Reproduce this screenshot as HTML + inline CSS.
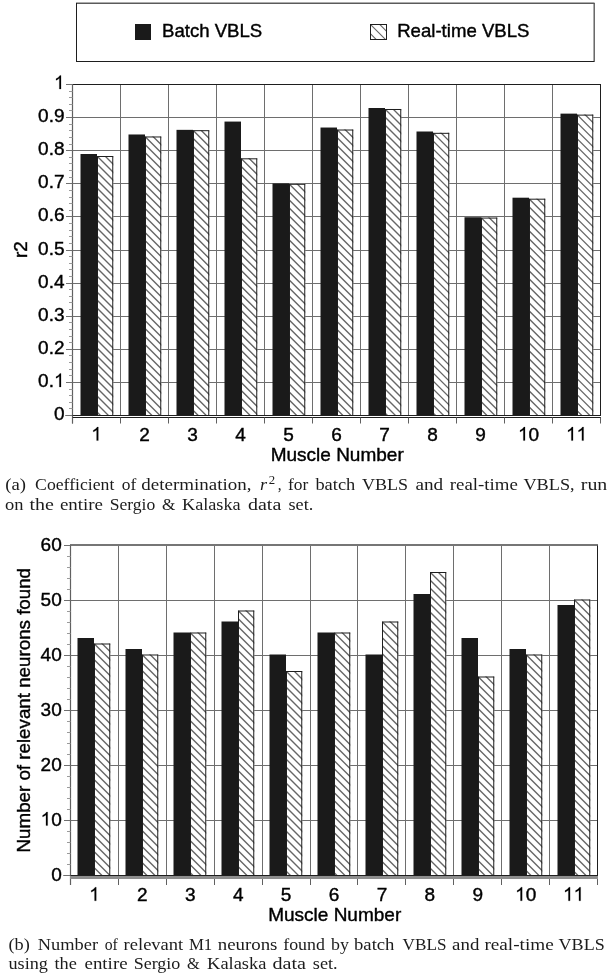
<!DOCTYPE html><html><head><meta charset="utf-8"><style>html,body{margin:0;padding:0;background:#fff;width:612px;height:974px;overflow:hidden}svg{display:block;filter:grayscale(1)}text{fill:#000}.s{stroke:#000;stroke-width:0.4px}</style></head><body>
<svg width="612" height="974" viewBox="0 0 612 974">
<rect x="0" y="0" width="612" height="974" fill="#fff"/>
<rect x="76" y="3" width="518" height="58" fill="#fff"/>
<line x1="76" y1="3.2" x2="594.5" y2="3.2" stroke="#5a5a5a" stroke-width="1.4"/>
<line x1="594.2" y1="3" x2="594.2" y2="61.5" stroke="#5a5a5a" stroke-width="1.4"/>
<line x1="76.5" y1="3" x2="76.5" y2="61.5" stroke="#1e1e1e" stroke-width="1"/>
<line x1="76" y1="61.5" x2="594.5" y2="61.5" stroke="#1e1e1e" stroke-width="1"/>
<rect x="135" y="24" width="16" height="16" fill="#1a1a1a"/>
<clipPath id="c1"><rect x="370" y="24" width="17" height="16"/></clipPath>
<rect x="370" y="24" width="17" height="16" fill="#fff"/>
<path clip-path="url(#c1)" d="M369,4.399999999999999L405,40.4M369,13.7L405,49.7M369,23.0L405,59.0M369,32.3L405,68.3" stroke="#666666" stroke-width="1.1" fill="none"/>
<rect x="370.5" y="24.5" width="16" height="15" fill="none" stroke="#1e1e1e" stroke-width="1"/>
<text class="s" x="162" y="36.8" text-anchor="start" font-family='"Liberation Sans", sans-serif' font-size="18.6" >Batch VBLS</text>
<text class="s" x="397.2" y="36.8" text-anchor="start" font-family='"Liberation Sans", sans-serif' font-size="18.6" >Real-time VBLS</text>
<line x1="72.5" y1="382.5" x2="600.5" y2="382.5" stroke="#6e6e6e" stroke-width="1"/>
<line x1="72.5" y1="349.5" x2="600.5" y2="349.5" stroke="#6e6e6e" stroke-width="1"/>
<line x1="72.5" y1="316.5" x2="600.5" y2="316.5" stroke="#6e6e6e" stroke-width="1"/>
<line x1="72.5" y1="283.5" x2="600.5" y2="283.5" stroke="#6e6e6e" stroke-width="1"/>
<line x1="72.5" y1="250.5" x2="600.5" y2="250.5" stroke="#6e6e6e" stroke-width="1"/>
<line x1="72.5" y1="216.5" x2="600.5" y2="216.5" stroke="#6e6e6e" stroke-width="1"/>
<line x1="72.5" y1="183.5" x2="600.5" y2="183.5" stroke="#6e6e6e" stroke-width="1"/>
<line x1="72.5" y1="150.5" x2="600.5" y2="150.5" stroke="#6e6e6e" stroke-width="1"/>
<line x1="72.5" y1="117.5" x2="600.5" y2="117.5" stroke="#6e6e6e" stroke-width="1"/>
<line x1="120.5" y1="84.5" x2="120.5" y2="415.5" stroke="#6e6e6e" stroke-width="1"/>
<line x1="168.5" y1="84.5" x2="168.5" y2="415.5" stroke="#6e6e6e" stroke-width="1"/>
<line x1="216.5" y1="84.5" x2="216.5" y2="415.5" stroke="#6e6e6e" stroke-width="1"/>
<line x1="264.5" y1="84.5" x2="264.5" y2="415.5" stroke="#6e6e6e" stroke-width="1"/>
<line x1="312.5" y1="84.5" x2="312.5" y2="415.5" stroke="#6e6e6e" stroke-width="1"/>
<line x1="360.5" y1="84.5" x2="360.5" y2="415.5" stroke="#6e6e6e" stroke-width="1"/>
<line x1="408.5" y1="84.5" x2="408.5" y2="415.5" stroke="#6e6e6e" stroke-width="1"/>
<line x1="456.5" y1="84.5" x2="456.5" y2="415.5" stroke="#6e6e6e" stroke-width="1"/>
<line x1="504.5" y1="84.5" x2="504.5" y2="415.5" stroke="#6e6e6e" stroke-width="1"/>
<line x1="552.5" y1="84.5" x2="552.5" y2="415.5" stroke="#6e6e6e" stroke-width="1"/>
<clipPath id="c2"><rect x="97" y="156.0" width="16.25" height="260.0"/></clipPath>
<rect x="97" y="156.0" width="16.25" height="260.0" fill="#fff"/>
<path clip-path="url(#c2)" d="M96,131.0L375.25,410.25M96,139.0L375.25,418.25M96,147.0L375.25,426.25M96,155.0L375.25,434.25M96,163.0L375.25,442.25M96,171.0L375.25,450.25M96,179.0L375.25,458.25M96,187.0L375.25,466.25M96,195.0L375.25,474.25M96,203.0L375.25,482.25M96,211.0L375.25,490.25M96,219.0L375.25,498.25M96,227.0L375.25,506.25M96,235.0L375.25,514.25M96,243.0L375.25,522.25M96,251.0L375.25,530.25M96,259.0L375.25,538.25M96,267.0L375.25,546.25M96,275.0L375.25,554.25M96,283.0L375.25,562.25M96,291.0L375.25,570.25M96,299.0L375.25,578.25M96,307.0L375.25,586.25M96,315.0L375.25,594.25M96,323.0L375.25,602.25M96,331.0L375.25,610.25M96,339.0L375.25,618.25M96,347.0L375.25,626.25M96,355.0L375.25,634.25M96,363.0L375.25,642.25M96,371.0L375.25,650.25M96,379.0L375.25,658.25M96,387.0L375.25,666.25M96,395.0L375.25,674.25M96,403.0L375.25,682.25M96,411.0L375.25,690.25" stroke="#666666" stroke-width="1.35" fill="none"/>
<rect x="97.5" y="156.5" width="15.25" height="259.0" fill="none" stroke="#1e1e1e" stroke-width="1"/>
<rect x="80.50" y="154.01" width="16.5" height="261.99" fill="#1a1a1a"/>
<clipPath id="c3"><rect x="145" y="136.47" width="16.25" height="279.53"/></clipPath>
<rect x="145" y="136.47" width="16.25" height="279.53" fill="#fff"/>
<path clip-path="url(#c3)" d="M144,111.47L442.78,410.25M144,119.47L442.78,418.25M144,127.47L442.78,426.25M144,135.47L442.78,434.25M144,143.47L442.78,442.25M144,151.47L442.78,450.25M144,159.47L442.78,458.25M144,167.47L442.78,466.25M144,175.47L442.78,474.25M144,183.47L442.78,482.25M144,191.47L442.78,490.25M144,199.47L442.78,498.25M144,207.47L442.78,506.25M144,215.47L442.78,514.25M144,223.47L442.78,522.25M144,231.47L442.78,530.25M144,239.47L442.78,538.25M144,247.47L442.78,546.25M144,255.47000000000003L442.78,554.25M144,263.47L442.78,562.25M144,271.47L442.78,570.25M144,279.47L442.78,578.25M144,287.47L442.78,586.25M144,295.47L442.78,594.25M144,303.47L442.78,602.25M144,311.47L442.78,610.25M144,319.47L442.78,618.25M144,327.47L442.78,626.25M144,335.47L442.78,634.25M144,343.47L442.78,642.25M144,351.47L442.78,650.25M144,359.47L442.78,658.25M144,367.47L442.78,666.25M144,375.47L442.78,674.25M144,383.47L442.78,682.25M144,391.47L442.78,690.25M144,399.47L442.78,698.25M144,407.47L442.78,706.25M144,415.47L442.78,714.25" stroke="#666666" stroke-width="1.35" fill="none"/>
<rect x="145.5" y="136.97" width="15.25" height="278.53" fill="none" stroke="#1e1e1e" stroke-width="1"/>
<rect x="128.50" y="134.48" width="16.5" height="281.52" fill="#1a1a1a"/>
<clipPath id="c4"><rect x="193" y="130.18" width="16.25" height="285.82"/></clipPath>
<rect x="193" y="130.18" width="16.25" height="285.82" fill="#fff"/>
<path clip-path="url(#c4)" d="M192,105.18L497.07,410.25M192,113.18L497.07,418.25M192,121.18L497.07,426.25M192,129.18L497.07,434.25M192,137.18L497.07,442.25M192,145.18L497.07,450.25M192,153.18L497.07,458.25M192,161.18L497.07,466.25M192,169.18L497.07,474.25M192,177.18L497.07,482.25M192,185.18L497.07,490.25M192,193.18L497.07,498.25M192,201.18L497.07,506.25M192,209.18L497.07,514.25M192,217.18L497.07,522.25M192,225.18L497.07,530.25M192,233.18L497.07,538.25M192,241.18L497.07,546.25M192,249.18L497.07,554.25M192,257.18L497.07,562.25M192,265.18L497.07,570.25M192,273.18L497.07,578.25M192,281.18L497.07,586.25M192,289.18L497.07,594.25M192,297.18L497.07,602.25M192,305.18L497.07,610.25M192,313.18L497.07,618.25M192,321.18L497.07,626.25M192,329.18L497.07,634.25M192,337.18L497.07,642.25M192,345.18L497.07,650.25M192,353.18L497.07,658.25M192,361.18L497.07,666.25M192,369.18L497.07,674.25M192,377.18L497.07,682.25M192,385.18L497.07,690.25M192,393.18L497.07,698.25M192,401.18L497.07,706.25M192,409.18L497.07,714.25" stroke="#666666" stroke-width="1.35" fill="none"/>
<rect x="193.5" y="130.68" width="15.25" height="284.82" fill="none" stroke="#1e1e1e" stroke-width="1"/>
<rect x="176.50" y="129.85" width="16.5" height="286.15" fill="#1a1a1a"/>
<clipPath id="c5"><rect x="241" y="158.31" width="16.25" height="257.69"/></clipPath>
<rect x="241" y="158.31" width="16.25" height="257.69" fill="#fff"/>
<path clip-path="url(#c5)" d="M240,133.31L516.94,410.25M240,141.31L516.94,418.25M240,149.31L516.94,426.25M240,157.31L516.94,434.25M240,165.31L516.94,442.25M240,173.31L516.94,450.25M240,181.31L516.94,458.25M240,189.31L516.94,466.25M240,197.31L516.94,474.25M240,205.31L516.94,482.25M240,213.31L516.94,490.25M240,221.31L516.94,498.25M240,229.31L516.94,506.25M240,237.31L516.94,514.25M240,245.31L516.94,522.25M240,253.31L516.94,530.25M240,261.31L516.94,538.25M240,269.31L516.94,546.25M240,277.31L516.94,554.25M240,285.31L516.94,562.25M240,293.31L516.94,570.25M240,301.31L516.94,578.25M240,309.31L516.94,586.25M240,317.31L516.94,594.25M240,325.31L516.94,602.25M240,333.31L516.94,610.25M240,341.31L516.94,618.25M240,349.31L516.94,626.25M240,357.31L516.94,634.25M240,365.31L516.94,642.25M240,373.31L516.94,650.25M240,381.31L516.94,658.25M240,389.31L516.94,666.25M240,397.31L516.94,674.25M240,405.31L516.94,682.25M240,413.31L516.94,690.25" stroke="#666666" stroke-width="1.35" fill="none"/>
<rect x="241.5" y="158.81" width="15.25" height="256.69" fill="none" stroke="#1e1e1e" stroke-width="1"/>
<rect x="224.50" y="121.57" width="16.5" height="294.43" fill="#1a1a1a"/>
<clipPath id="c6"><rect x="289" y="183.8" width="16.25" height="232.2"/></clipPath>
<rect x="289" y="183.8" width="16.25" height="232.2" fill="#fff"/>
<path clip-path="url(#c6)" d="M288,158.8L539.45,410.25M288,166.8L539.45,418.25M288,174.8L539.45,426.25M288,182.8L539.45,434.25M288,190.8L539.45,442.25M288,198.8L539.45,450.25M288,206.8L539.45,458.25M288,214.8L539.45,466.25M288,222.8L539.45,474.25M288,230.8L539.45,482.25M288,238.8L539.45,490.25M288,246.8L539.45,498.25M288,254.8L539.45,506.25M288,262.8L539.45,514.25M288,270.8L539.45,522.25M288,278.8L539.45,530.25M288,286.8L539.45,538.25M288,294.8L539.45,546.25M288,302.8L539.45,554.25M288,310.8L539.45,562.25M288,318.8L539.45,570.25M288,326.8L539.45,578.25M288,334.8L539.45,586.25M288,342.8L539.45,594.25M288,350.8L539.45,602.25M288,358.8L539.45,610.25M288,366.8L539.45,618.25M288,374.8L539.45,626.25M288,382.8L539.45,634.25M288,390.8L539.45,642.25M288,398.8L539.45,650.25M288,406.8L539.45,658.25M288,414.8L539.45,666.25" stroke="#666666" stroke-width="1.35" fill="none"/>
<rect x="289.5" y="184.3" width="15.25" height="231.2" fill="none" stroke="#1e1e1e" stroke-width="1"/>
<rect x="272.50" y="183.47" width="16.5" height="232.53" fill="#1a1a1a"/>
<clipPath id="c7"><rect x="337" y="129.52" width="16.25" height="286.48"/></clipPath>
<rect x="337" y="129.52" width="16.25" height="286.48" fill="#fff"/>
<path clip-path="url(#c7)" d="M336,104.52000000000001L641.73,410.25M336,112.52000000000001L641.73,418.25M336,120.52000000000001L641.73,426.25M336,128.52L641.73,434.25M336,136.52L641.73,442.25M336,144.52L641.73,450.25M336,152.52L641.73,458.25M336,160.52L641.73,466.25M336,168.52L641.73,474.25M336,176.52L641.73,482.25M336,184.52L641.73,490.25M336,192.52L641.73,498.25M336,200.52L641.73,506.25M336,208.52L641.73,514.25M336,216.52L641.73,522.25M336,224.52L641.73,530.25M336,232.52L641.73,538.25M336,240.52L641.73,546.25M336,248.52L641.73,554.25M336,256.52L641.73,562.25M336,264.52L641.73,570.25M336,272.52L641.73,578.25M336,280.52L641.73,586.25M336,288.52L641.73,594.25M336,296.52L641.73,602.25M336,304.52L641.73,610.25M336,312.52L641.73,618.25M336,320.52L641.73,626.25M336,328.52L641.73,634.25M336,336.52L641.73,642.25M336,344.52L641.73,650.25M336,352.52L641.73,658.25M336,360.52L641.73,666.25M336,368.52L641.73,674.25M336,376.52L641.73,682.25M336,384.52L641.73,690.25M336,392.52L641.73,698.25M336,400.52L641.73,706.25M336,408.52L641.73,714.25" stroke="#666666" stroke-width="1.35" fill="none"/>
<rect x="337.5" y="130.02" width="15.25" height="285.48" fill="none" stroke="#1e1e1e" stroke-width="1"/>
<rect x="320.50" y="127.53" width="16.5" height="288.47" fill="#1a1a1a"/>
<clipPath id="c8"><rect x="385" y="108.99" width="16.25" height="307.01"/></clipPath>
<rect x="385" y="108.99" width="16.25" height="307.01" fill="#fff"/>
<path clip-path="url(#c8)" d="M384,83.99L710.26,410.25M384,91.99L710.26,418.25M384,99.99L710.26,426.25M384,107.99L710.26,434.25M384,115.99L710.26,442.25M384,123.99L710.26,450.25M384,131.99L710.26,458.25M384,139.99L710.26,466.25M384,147.99L710.26,474.25M384,155.99L710.26,482.25M384,163.99L710.26,490.25M384,171.99L710.26,498.25M384,179.99L710.26,506.25M384,187.99L710.26,514.25M384,195.99L710.26,522.25M384,203.99L710.26,530.25M384,211.99L710.26,538.25M384,219.99L710.26,546.25M384,227.99L710.26,554.25M384,235.99L710.26,562.25M384,243.99L710.26,570.25M384,251.99L710.26,578.25M384,259.99L710.26,586.25M384,267.99L710.26,594.25M384,275.99L710.26,602.25M384,283.99L710.26,610.25M384,291.99L710.26,618.25M384,299.99L710.26,626.25M384,307.99L710.26,634.25M384,315.99L710.26,642.25M384,323.99L710.26,650.25M384,331.99L710.26,658.25M384,339.99L710.26,666.25M384,347.99L710.26,674.25M384,355.99L710.26,682.25M384,363.99L710.26,690.25M384,371.99L710.26,698.25M384,379.99L710.26,706.25M384,387.99L710.26,714.25M384,395.99L710.26,722.25M384,403.99L710.26,730.25M384,411.99L710.26,738.25" stroke="#666666" stroke-width="1.35" fill="none"/>
<rect x="385.5" y="109.49" width="15.25" height="306.01" fill="none" stroke="#1e1e1e" stroke-width="1"/>
<rect x="368.50" y="108.0" width="16.5" height="308.0" fill="#1a1a1a"/>
<clipPath id="c9"><rect x="433" y="132.83" width="16.25" height="283.16999999999996"/></clipPath>
<rect x="433" y="132.83" width="16.25" height="283.16999999999996" fill="#fff"/>
<path clip-path="url(#c9)" d="M432,107.83000000000001L734.42,410.25M432,115.83000000000001L734.42,418.25M432,123.83000000000001L734.42,426.25M432,131.83L734.42,434.25M432,139.83L734.42,442.25M432,147.83L734.42,450.25M432,155.83L734.42,458.25M432,163.83L734.42,466.25M432,171.83L734.42,474.25M432,179.83L734.42,482.25M432,187.83L734.42,490.25M432,195.83L734.42,498.25M432,203.83L734.42,506.25M432,211.83L734.42,514.25M432,219.83L734.42,522.25M432,227.83L734.42,530.25M432,235.83L734.42,538.25M432,243.83L734.42,546.25M432,251.83L734.42,554.25M432,259.83000000000004L734.42,562.25M432,267.83000000000004L734.42,570.25M432,275.83000000000004L734.42,578.25M432,283.83000000000004L734.42,586.25M432,291.83000000000004L734.42,594.25M432,299.83000000000004L734.42,602.25M432,307.83000000000004L734.42,610.25M432,315.83000000000004L734.42,618.25M432,323.83000000000004L734.42,626.25M432,331.83000000000004L734.42,634.25M432,339.83000000000004L734.42,642.25M432,347.83000000000004L734.42,650.25M432,355.83000000000004L734.42,658.25M432,363.83000000000004L734.42,666.25M432,371.83000000000004L734.42,674.25M432,379.83000000000004L734.42,682.25M432,387.83000000000004L734.42,690.25M432,395.83000000000004L734.42,698.25M432,403.83000000000004L734.42,706.25M432,411.83000000000004L734.42,714.25" stroke="#666666" stroke-width="1.35" fill="none"/>
<rect x="433.5" y="133.33" width="15.25" height="282.16999999999996" fill="none" stroke="#1e1e1e" stroke-width="1"/>
<rect x="416.50" y="131.5" width="16.5" height="284.5" fill="#1a1a1a"/>
<clipPath id="c10"><rect x="481" y="217.56" width="16.25" height="198.44"/></clipPath>
<rect x="481" y="217.56" width="16.25" height="198.44" fill="#fff"/>
<path clip-path="url(#c10)" d="M480,192.56L697.69,410.25M480,200.56L697.69,418.25M480,208.56L697.69,426.25M480,216.56L697.69,434.25M480,224.56L697.69,442.25M480,232.56L697.69,450.25M480,240.56L697.69,458.25M480,248.56L697.69,466.25M480,256.56L697.69,474.25M480,264.56L697.69,482.25M480,272.56L697.69,490.25M480,280.56L697.69,498.25M480,288.56L697.69,506.25M480,296.56L697.69,514.25M480,304.56L697.69,522.25M480,312.56L697.69,530.25M480,320.56L697.69,538.25M480,328.56L697.69,546.25M480,336.56L697.69,554.25M480,344.56L697.69,562.25M480,352.56L697.69,570.25M480,360.56L697.69,578.25M480,368.56L697.69,586.25M480,376.56L697.69,594.25M480,384.56L697.69,602.25M480,392.56L697.69,610.25M480,400.56L697.69,618.25M480,408.56L697.69,626.25" stroke="#666666" stroke-width="1.35" fill="none"/>
<rect x="481.5" y="218.06" width="15.25" height="197.44" fill="none" stroke="#1e1e1e" stroke-width="1"/>
<rect x="464.50" y="217.23" width="16.5" height="198.77" fill="#1a1a1a"/>
<clipPath id="c11"><rect x="529" y="198.69" width="16.25" height="217.31"/></clipPath>
<rect x="529" y="198.69" width="16.25" height="217.31" fill="#fff"/>
<path clip-path="url(#c11)" d="M528,173.69L764.56,410.25M528,181.69L764.56,418.25M528,189.69L764.56,426.25M528,197.69L764.56,434.25M528,205.69L764.56,442.25M528,213.69L764.56,450.25M528,221.69L764.56,458.25M528,229.69L764.56,466.25M528,237.69L764.56,474.25M528,245.69L764.56,482.25M528,253.69L764.56,490.25M528,261.69L764.56,498.25M528,269.69L764.56,506.25M528,277.69L764.56,514.25M528,285.69L764.56,522.25M528,293.69L764.56,530.25M528,301.69L764.56,538.25M528,309.69L764.56,546.25M528,317.69L764.56,554.25M528,325.69L764.56,562.25M528,333.69L764.56,570.25M528,341.69L764.56,578.25M528,349.69L764.56,586.25M528,357.69L764.56,594.25M528,365.69L764.56,602.25M528,373.69L764.56,610.25M528,381.69L764.56,618.25M528,389.69L764.56,626.25M528,397.69L764.56,634.25M528,405.69L764.56,642.25M528,413.69L764.56,650.25" stroke="#666666" stroke-width="1.35" fill="none"/>
<rect x="529.5" y="199.19" width="15.25" height="216.31" fill="none" stroke="#1e1e1e" stroke-width="1"/>
<rect x="512.50" y="197.7" width="16.5" height="218.3" fill="#1a1a1a"/>
<clipPath id="c12"><rect x="577" y="114.62" width="16.25" height="301.38"/></clipPath>
<rect x="577" y="114.62" width="16.25" height="301.38" fill="#fff"/>
<path clip-path="url(#c12)" d="M576,89.62L896.63,410.25M576,97.62L896.63,418.25M576,105.62L896.63,426.25M576,113.62L896.63,434.25M576,121.62L896.63,442.25M576,129.62L896.63,450.25M576,137.62L896.63,458.25M576,145.62L896.63,466.25M576,153.62L896.63,474.25M576,161.62L896.63,482.25M576,169.62L896.63,490.25M576,177.62L896.63,498.25M576,185.62L896.63,506.25M576,193.62L896.63,514.25M576,201.62L896.63,522.25M576,209.62L896.63,530.25M576,217.62L896.63,538.25M576,225.62L896.63,546.25M576,233.62L896.63,554.25M576,241.62L896.63,562.25M576,249.62L896.63,570.25M576,257.62L896.63,578.25M576,265.62L896.63,586.25M576,273.62L896.63,594.25M576,281.62L896.63,602.25M576,289.62L896.63,610.25M576,297.62L896.63,618.25M576,305.62L896.63,626.25M576,313.62L896.63,634.25M576,321.62L896.63,642.25M576,329.62L896.63,650.25M576,337.62L896.63,658.25M576,345.62L896.63,666.25M576,353.62L896.63,674.25M576,361.62L896.63,682.25M576,369.62L896.63,690.25M576,377.62L896.63,698.25M576,385.62L896.63,706.25M576,393.62L896.63,714.25M576,401.62L896.63,722.25M576,409.62L896.63,730.25" stroke="#666666" stroke-width="1.35" fill="none"/>
<rect x="577.5" y="115.12" width="15.25" height="300.38" fill="none" stroke="#1e1e1e" stroke-width="1"/>
<rect x="560.50" y="113.63" width="16.5" height="302.37" fill="#1a1a1a"/>
<line x1="72.5" y1="84.5" x2="601.0" y2="84.5" stroke="#1e1e1e" stroke-width="1"/>
<line x1="600.5" y1="84.5" x2="600.5" y2="415.5" stroke="#1e1e1e" stroke-width="1"/>
<line x1="72.5" y1="84.0" x2="72.5" y2="423.5" stroke="#606060" stroke-width="1.2"/>
<line x1="65.5" y1="415.5" x2="601.0" y2="415.5" stroke="#1e1e1e" stroke-width="1"/>
<line x1="66.0" y1="415.5" x2="72.5" y2="415.5" stroke="#707070" stroke-width="1"/>
<line x1="69.0" y1="408.5" x2="72.5" y2="408.5" stroke="#9a9a9a" stroke-width="1"/>
<line x1="69.0" y1="402.5" x2="72.5" y2="402.5" stroke="#9a9a9a" stroke-width="1"/>
<line x1="69.0" y1="395.5" x2="72.5" y2="395.5" stroke="#9a9a9a" stroke-width="1"/>
<line x1="69.0" y1="389.5" x2="72.5" y2="389.5" stroke="#9a9a9a" stroke-width="1"/>
<line x1="66.0" y1="382.5" x2="72.5" y2="382.5" stroke="#707070" stroke-width="1"/>
<line x1="69.0" y1="375.5" x2="72.5" y2="375.5" stroke="#9a9a9a" stroke-width="1"/>
<line x1="69.0" y1="369.5" x2="72.5" y2="369.5" stroke="#9a9a9a" stroke-width="1"/>
<line x1="69.0" y1="362.5" x2="72.5" y2="362.5" stroke="#9a9a9a" stroke-width="1"/>
<line x1="69.0" y1="355.5" x2="72.5" y2="355.5" stroke="#9a9a9a" stroke-width="1"/>
<line x1="66.0" y1="349.5" x2="72.5" y2="349.5" stroke="#707070" stroke-width="1"/>
<line x1="69.0" y1="342.5" x2="72.5" y2="342.5" stroke="#9a9a9a" stroke-width="1"/>
<line x1="69.0" y1="336.5" x2="72.5" y2="336.5" stroke="#9a9a9a" stroke-width="1"/>
<line x1="69.0" y1="329.5" x2="72.5" y2="329.5" stroke="#9a9a9a" stroke-width="1"/>
<line x1="69.0" y1="322.5" x2="72.5" y2="322.5" stroke="#9a9a9a" stroke-width="1"/>
<line x1="66.0" y1="316.5" x2="72.5" y2="316.5" stroke="#707070" stroke-width="1"/>
<line x1="69.0" y1="309.5" x2="72.5" y2="309.5" stroke="#9a9a9a" stroke-width="1"/>
<line x1="69.0" y1="302.5" x2="72.5" y2="302.5" stroke="#9a9a9a" stroke-width="1"/>
<line x1="69.0" y1="296.5" x2="72.5" y2="296.5" stroke="#9a9a9a" stroke-width="1"/>
<line x1="69.0" y1="289.5" x2="72.5" y2="289.5" stroke="#9a9a9a" stroke-width="1"/>
<line x1="66.0" y1="283.5" x2="72.5" y2="283.5" stroke="#707070" stroke-width="1"/>
<line x1="69.0" y1="276.5" x2="72.5" y2="276.5" stroke="#9a9a9a" stroke-width="1"/>
<line x1="69.0" y1="269.5" x2="72.5" y2="269.5" stroke="#9a9a9a" stroke-width="1"/>
<line x1="69.0" y1="263.5" x2="72.5" y2="263.5" stroke="#9a9a9a" stroke-width="1"/>
<line x1="69.0" y1="256.5" x2="72.5" y2="256.5" stroke="#9a9a9a" stroke-width="1"/>
<line x1="66.0" y1="250.5" x2="72.5" y2="250.5" stroke="#707070" stroke-width="1"/>
<line x1="69.0" y1="243.5" x2="72.5" y2="243.5" stroke="#9a9a9a" stroke-width="1"/>
<line x1="69.0" y1="236.5" x2="72.5" y2="236.5" stroke="#9a9a9a" stroke-width="1"/>
<line x1="69.0" y1="230.5" x2="72.5" y2="230.5" stroke="#9a9a9a" stroke-width="1"/>
<line x1="69.0" y1="223.5" x2="72.5" y2="223.5" stroke="#9a9a9a" stroke-width="1"/>
<line x1="66.0" y1="216.5" x2="72.5" y2="216.5" stroke="#707070" stroke-width="1"/>
<line x1="69.0" y1="210.5" x2="72.5" y2="210.5" stroke="#9a9a9a" stroke-width="1"/>
<line x1="69.0" y1="203.5" x2="72.5" y2="203.5" stroke="#9a9a9a" stroke-width="1"/>
<line x1="69.0" y1="197.5" x2="72.5" y2="197.5" stroke="#9a9a9a" stroke-width="1"/>
<line x1="69.0" y1="190.5" x2="72.5" y2="190.5" stroke="#9a9a9a" stroke-width="1"/>
<line x1="66.0" y1="183.5" x2="72.5" y2="183.5" stroke="#707070" stroke-width="1"/>
<line x1="69.0" y1="177.5" x2="72.5" y2="177.5" stroke="#9a9a9a" stroke-width="1"/>
<line x1="69.0" y1="170.5" x2="72.5" y2="170.5" stroke="#9a9a9a" stroke-width="1"/>
<line x1="69.0" y1="163.5" x2="72.5" y2="163.5" stroke="#9a9a9a" stroke-width="1"/>
<line x1="69.0" y1="157.5" x2="72.5" y2="157.5" stroke="#9a9a9a" stroke-width="1"/>
<line x1="66.0" y1="150.5" x2="72.5" y2="150.5" stroke="#707070" stroke-width="1"/>
<line x1="69.0" y1="144.5" x2="72.5" y2="144.5" stroke="#9a9a9a" stroke-width="1"/>
<line x1="69.0" y1="137.5" x2="72.5" y2="137.5" stroke="#9a9a9a" stroke-width="1"/>
<line x1="69.0" y1="130.5" x2="72.5" y2="130.5" stroke="#9a9a9a" stroke-width="1"/>
<line x1="69.0" y1="124.5" x2="72.5" y2="124.5" stroke="#9a9a9a" stroke-width="1"/>
<line x1="66.0" y1="117.5" x2="72.5" y2="117.5" stroke="#707070" stroke-width="1"/>
<line x1="69.0" y1="110.5" x2="72.5" y2="110.5" stroke="#9a9a9a" stroke-width="1"/>
<line x1="69.0" y1="104.5" x2="72.5" y2="104.5" stroke="#9a9a9a" stroke-width="1"/>
<line x1="69.0" y1="97.5" x2="72.5" y2="97.5" stroke="#9a9a9a" stroke-width="1"/>
<line x1="69.0" y1="91.5" x2="72.5" y2="91.5" stroke="#9a9a9a" stroke-width="1"/>
<line x1="66.0" y1="84.5" x2="72.5" y2="84.5" stroke="#707070" stroke-width="1"/>
<line x1="72.5" y1="417.5" x2="601.0" y2="417.5" stroke="#1e1e1e" stroke-width="1"/>
<line x1="72.5" y1="417.5" x2="72.5" y2="423.5" stroke="#606060" stroke-width="1"/>
<line x1="120.5" y1="417.5" x2="120.5" y2="423.5" stroke="#606060" stroke-width="1"/>
<line x1="168.5" y1="417.5" x2="168.5" y2="423.5" stroke="#606060" stroke-width="1"/>
<line x1="216.5" y1="417.5" x2="216.5" y2="423.5" stroke="#606060" stroke-width="1"/>
<line x1="264.5" y1="417.5" x2="264.5" y2="423.5" stroke="#606060" stroke-width="1"/>
<line x1="312.5" y1="417.5" x2="312.5" y2="423.5" stroke="#606060" stroke-width="1"/>
<line x1="360.5" y1="417.5" x2="360.5" y2="423.5" stroke="#606060" stroke-width="1"/>
<line x1="408.5" y1="417.5" x2="408.5" y2="423.5" stroke="#606060" stroke-width="1"/>
<line x1="456.5" y1="417.5" x2="456.5" y2="423.5" stroke="#606060" stroke-width="1"/>
<line x1="504.5" y1="417.5" x2="504.5" y2="423.5" stroke="#606060" stroke-width="1"/>
<line x1="552.5" y1="417.5" x2="552.5" y2="423.5" stroke="#606060" stroke-width="1"/>
<line x1="600.5" y1="417.5" x2="600.5" y2="423.5" stroke="#606060" stroke-width="1"/>
<text class="s" x="53.94" y="420.00" font-family='"Liberation Sans", sans-serif' font-size="19">0</text>
<text class="s" x="38.09" y="387.00" font-family='"Liberation Sans", sans-serif' font-size="19">0</text>
<text class="s" x="48.65" y="387.00" font-family='"Liberation Sans", sans-serif' font-size="19">.</text>
<path class="s" d="M0.3726,0L0.2847,0L0.2847,-0.560Q0.2529,-0.5298 0.2026,-0.50025Q0.1523,-0.4707 0.1089,-0.4546L0.1089,-0.5396Q0.1826,-0.5742 0.2378,-0.62355Q0.2930,-0.6729 0.3154,-0.7158L0.3726,-0.7158Z" transform="translate(53.94,387.00) scale(19)" style="fill:#000;stroke-width:0.0105px"/>
<text class="s" x="38.09" y="354.00" font-family='"Liberation Sans", sans-serif' font-size="19">0</text>
<text class="s" x="48.65" y="354.00" font-family='"Liberation Sans", sans-serif' font-size="19">.</text>
<text class="s" x="53.94" y="354.00" font-family='"Liberation Sans", sans-serif' font-size="19">2</text>
<text class="s" x="38.09" y="321.00" font-family='"Liberation Sans", sans-serif' font-size="19">0</text>
<text class="s" x="48.65" y="321.00" font-family='"Liberation Sans", sans-serif' font-size="19">.</text>
<text class="s" x="53.94" y="321.00" font-family='"Liberation Sans", sans-serif' font-size="19">3</text>
<text class="s" x="38.09" y="288.00" font-family='"Liberation Sans", sans-serif' font-size="19">0</text>
<text class="s" x="48.65" y="288.00" font-family='"Liberation Sans", sans-serif' font-size="19">.</text>
<text class="s" x="53.94" y="288.00" font-family='"Liberation Sans", sans-serif' font-size="19">4</text>
<text class="s" x="38.09" y="255.00" font-family='"Liberation Sans", sans-serif' font-size="19">0</text>
<text class="s" x="48.65" y="255.00" font-family='"Liberation Sans", sans-serif' font-size="19">.</text>
<text class="s" x="53.94" y="255.00" font-family='"Liberation Sans", sans-serif' font-size="19">5</text>
<text class="s" x="38.09" y="221.00" font-family='"Liberation Sans", sans-serif' font-size="19">0</text>
<text class="s" x="48.65" y="221.00" font-family='"Liberation Sans", sans-serif' font-size="19">.</text>
<text class="s" x="53.94" y="221.00" font-family='"Liberation Sans", sans-serif' font-size="19">6</text>
<text class="s" x="38.09" y="188.00" font-family='"Liberation Sans", sans-serif' font-size="19">0</text>
<text class="s" x="48.65" y="188.00" font-family='"Liberation Sans", sans-serif' font-size="19">.</text>
<text class="s" x="53.94" y="188.00" font-family='"Liberation Sans", sans-serif' font-size="19">7</text>
<text class="s" x="38.09" y="155.00" font-family='"Liberation Sans", sans-serif' font-size="19">0</text>
<text class="s" x="48.65" y="155.00" font-family='"Liberation Sans", sans-serif' font-size="19">.</text>
<text class="s" x="53.94" y="155.00" font-family='"Liberation Sans", sans-serif' font-size="19">8</text>
<text class="s" x="38.09" y="122.00" font-family='"Liberation Sans", sans-serif' font-size="19">0</text>
<text class="s" x="48.65" y="122.00" font-family='"Liberation Sans", sans-serif' font-size="19">.</text>
<text class="s" x="53.94" y="122.00" font-family='"Liberation Sans", sans-serif' font-size="19">9</text>
<path class="s" d="M0.3726,0L0.2847,0L0.2847,-0.560Q0.2529,-0.5298 0.2026,-0.50025Q0.1523,-0.4707 0.1089,-0.4546L0.1089,-0.5396Q0.1826,-0.5742 0.2378,-0.62355Q0.2930,-0.6729 0.3154,-0.7158L0.3726,-0.7158Z" transform="translate(53.94,89.00) scale(19)" style="fill:#000;stroke-width:0.0105px"/>
<path class="s" d="M0.3726,0L0.2847,0L0.2847,-0.560Q0.2529,-0.5298 0.2026,-0.50025Q0.1523,-0.4707 0.1089,-0.4546L0.1089,-0.5396Q0.1826,-0.5742 0.2378,-0.62355Q0.2930,-0.6729 0.3154,-0.7158L0.3726,-0.7158Z" transform="translate(91.22,440.60) scale(19)" style="fill:#000;stroke-width:0.0105px"/>
<text class="s" x="139.22" y="440.60" font-family='"Liberation Sans", sans-serif' font-size="19">2</text>
<text class="s" x="187.22" y="440.60" font-family='"Liberation Sans", sans-serif' font-size="19">3</text>
<text class="s" x="235.22" y="440.60" font-family='"Liberation Sans", sans-serif' font-size="19">4</text>
<text class="s" x="283.22" y="440.60" font-family='"Liberation Sans", sans-serif' font-size="19">5</text>
<text class="s" x="331.22" y="440.60" font-family='"Liberation Sans", sans-serif' font-size="19">6</text>
<text class="s" x="379.22" y="440.60" font-family='"Liberation Sans", sans-serif' font-size="19">7</text>
<text class="s" x="427.22" y="440.60" font-family='"Liberation Sans", sans-serif' font-size="19">8</text>
<text class="s" x="475.22" y="440.60" font-family='"Liberation Sans", sans-serif' font-size="19">9</text>
<path class="s" d="M0.3726,0L0.2847,0L0.2847,-0.560Q0.2529,-0.5298 0.2026,-0.50025Q0.1523,-0.4707 0.1089,-0.4546L0.1089,-0.5396Q0.1826,-0.5742 0.2378,-0.62355Q0.2930,-0.6729 0.3154,-0.7158L0.3726,-0.7158Z" transform="translate(517.94,440.60) scale(19)" style="fill:#000;stroke-width:0.0105px"/>
<text class="s" x="528.50" y="440.60" font-family='"Liberation Sans", sans-serif' font-size="19">0</text>
<path class="s" d="M0.3726,0L0.2847,0L0.2847,-0.560Q0.2529,-0.5298 0.2026,-0.50025Q0.1523,-0.4707 0.1089,-0.4546L0.1089,-0.5396Q0.1826,-0.5742 0.2378,-0.62355Q0.2930,-0.6729 0.3154,-0.7158L0.3726,-0.7158Z" transform="translate(565.94,440.60) scale(19)" style="fill:#000;stroke-width:0.0105px"/>
<path class="s" d="M0.3726,0L0.2847,0L0.2847,-0.560Q0.2529,-0.5298 0.2026,-0.50025Q0.1523,-0.4707 0.1089,-0.4546L0.1089,-0.5396Q0.1826,-0.5742 0.2378,-0.62355Q0.2930,-0.6729 0.3154,-0.7158L0.3726,-0.7158Z" transform="translate(576.50,440.60) scale(19)" style="fill:#000;stroke-width:0.0105px"/>
<text class="s" x="337.20" y="460.70" text-anchor="middle" font-family='"Liberation Sans", sans-serif' font-size="19" >Muscle Number</text>
<text class="s" transform="translate(26.8,249.6) rotate(-90)" text-anchor="middle" font-family='"Liberation Sans", sans-serif' font-size="19">r2</text>
<line x1="70.5" y1="820.5" x2="597.5" y2="820.5" stroke="#6e6e6e" stroke-width="1"/>
<line x1="70.5" y1="765.5" x2="597.5" y2="765.5" stroke="#6e6e6e" stroke-width="1"/>
<line x1="70.5" y1="710.5" x2="597.5" y2="710.5" stroke="#6e6e6e" stroke-width="1"/>
<line x1="70.5" y1="655.5" x2="597.5" y2="655.5" stroke="#6e6e6e" stroke-width="1"/>
<line x1="70.5" y1="600.5" x2="597.5" y2="600.5" stroke="#6e6e6e" stroke-width="1"/>
<line x1="118.5" y1="545.5" x2="118.5" y2="875.5" stroke="#6e6e6e" stroke-width="1"/>
<line x1="166.5" y1="545.5" x2="166.5" y2="875.5" stroke="#6e6e6e" stroke-width="1"/>
<line x1="214.5" y1="545.5" x2="214.5" y2="875.5" stroke="#6e6e6e" stroke-width="1"/>
<line x1="262.5" y1="545.5" x2="262.5" y2="875.5" stroke="#6e6e6e" stroke-width="1"/>
<line x1="310.5" y1="545.5" x2="310.5" y2="875.5" stroke="#6e6e6e" stroke-width="1"/>
<line x1="357.5" y1="545.5" x2="357.5" y2="875.5" stroke="#6e6e6e" stroke-width="1"/>
<line x1="405.5" y1="545.5" x2="405.5" y2="875.5" stroke="#6e6e6e" stroke-width="1"/>
<line x1="453.5" y1="545.5" x2="453.5" y2="875.5" stroke="#6e6e6e" stroke-width="1"/>
<line x1="501.5" y1="545.5" x2="501.5" y2="875.5" stroke="#6e6e6e" stroke-width="1"/>
<line x1="549.5" y1="545.5" x2="549.5" y2="875.5" stroke="#6e6e6e" stroke-width="1"/>
<clipPath id="c13"><rect x="94" y="643.5" width="16.25" height="232.5"/></clipPath>
<rect x="94" y="643.5" width="16.25" height="232.5" fill="#fff"/>
<path clip-path="url(#c13)" d="M93,618.5L344.75,870.25M93,626.5L344.75,878.25M93,634.5L344.75,886.25M93,642.5L344.75,894.25M93,650.5L344.75,902.25M93,658.5L344.75,910.25M93,666.5L344.75,918.25M93,674.5L344.75,926.25M93,682.5L344.75,934.25M93,690.5L344.75,942.25M93,698.5L344.75,950.25M93,706.5L344.75,958.25M93,714.5L344.75,966.25M93,722.5L344.75,974.25M93,730.5L344.75,982.25M93,738.5L344.75,990.25M93,746.5L344.75,998.25M93,754.5L344.75,1006.25M93,762.5L344.75,1014.25M93,770.5L344.75,1022.25M93,778.5L344.75,1030.25M93,786.5L344.75,1038.25M93,794.5L344.75,1046.25M93,802.5L344.75,1054.25M93,810.5L344.75,1062.25M93,818.5L344.75,1070.25M93,826.5L344.75,1078.25M93,834.5L344.75,1086.25M93,842.5L344.75,1094.25M93,850.5L344.75,1102.25M93,858.5L344.75,1110.25M93,866.5L344.75,1118.25M93,874.5L344.75,1126.25" stroke="#666666" stroke-width="1.35" fill="none"/>
<rect x="94.5" y="644.0" width="15.25" height="231.5" fill="none" stroke="#1e1e1e" stroke-width="1"/>
<rect x="77.50" y="638.0" width="16.5" height="238.0" fill="#1a1a1a"/>
<clipPath id="c14"><rect x="142" y="654.5" width="16.25" height="221.5"/></clipPath>
<rect x="142" y="654.5" width="16.25" height="221.5" fill="#fff"/>
<path clip-path="url(#c14)" d="M141,629.5L381.75,870.25M141,637.5L381.75,878.25M141,645.5L381.75,886.25M141,653.5L381.75,894.25M141,661.5L381.75,902.25M141,669.5L381.75,910.25M141,677.5L381.75,918.25M141,685.5L381.75,926.25M141,693.5L381.75,934.25M141,701.5L381.75,942.25M141,709.5L381.75,950.25M141,717.5L381.75,958.25M141,725.5L381.75,966.25M141,733.5L381.75,974.25M141,741.5L381.75,982.25M141,749.5L381.75,990.25M141,757.5L381.75,998.25M141,765.5L381.75,1006.25M141,773.5L381.75,1014.25M141,781.5L381.75,1022.25M141,789.5L381.75,1030.25M141,797.5L381.75,1038.25M141,805.5L381.75,1046.25M141,813.5L381.75,1054.25M141,821.5L381.75,1062.25M141,829.5L381.75,1070.25M141,837.5L381.75,1078.25M141,845.5L381.75,1086.25M141,853.5L381.75,1094.25M141,861.5L381.75,1102.25M141,869.5L381.75,1110.25" stroke="#666666" stroke-width="1.35" fill="none"/>
<rect x="142.5" y="655.0" width="15.25" height="220.5" fill="none" stroke="#1e1e1e" stroke-width="1"/>
<rect x="125.50" y="649.0" width="16.5" height="227.0" fill="#1a1a1a"/>
<clipPath id="c15"><rect x="190" y="632.5" width="16.25" height="243.5"/></clipPath>
<rect x="190" y="632.5" width="16.25" height="243.5" fill="#fff"/>
<path clip-path="url(#c15)" d="M189,607.5L451.75,870.25M189,615.5L451.75,878.25M189,623.5L451.75,886.25M189,631.5L451.75,894.25M189,639.5L451.75,902.25M189,647.5L451.75,910.25M189,655.5L451.75,918.25M189,663.5L451.75,926.25M189,671.5L451.75,934.25M189,679.5L451.75,942.25M189,687.5L451.75,950.25M189,695.5L451.75,958.25M189,703.5L451.75,966.25M189,711.5L451.75,974.25M189,719.5L451.75,982.25M189,727.5L451.75,990.25M189,735.5L451.75,998.25M189,743.5L451.75,1006.25M189,751.5L451.75,1014.25M189,759.5L451.75,1022.25M189,767.5L451.75,1030.25M189,775.5L451.75,1038.25M189,783.5L451.75,1046.25M189,791.5L451.75,1054.25M189,799.5L451.75,1062.25M189,807.5L451.75,1070.25M189,815.5L451.75,1078.25M189,823.5L451.75,1086.25M189,831.5L451.75,1094.25M189,839.5L451.75,1102.25M189,847.5L451.75,1110.25M189,855.5L451.75,1118.25M189,863.5L451.75,1126.25M189,871.5L451.75,1134.25" stroke="#666666" stroke-width="1.35" fill="none"/>
<rect x="190.5" y="633.0" width="15.25" height="242.5" fill="none" stroke="#1e1e1e" stroke-width="1"/>
<rect x="173.50" y="632.5" width="16.5" height="243.5" fill="#1a1a1a"/>
<clipPath id="c16"><rect x="238" y="610.5" width="16.25" height="265.5"/></clipPath>
<rect x="238" y="610.5" width="16.25" height="265.5" fill="#fff"/>
<path clip-path="url(#c16)" d="M237,585.5L521.75,870.25M237,593.5L521.75,878.25M237,601.5L521.75,886.25M237,609.5L521.75,894.25M237,617.5L521.75,902.25M237,625.5L521.75,910.25M237,633.5L521.75,918.25M237,641.5L521.75,926.25M237,649.5L521.75,934.25M237,657.5L521.75,942.25M237,665.5L521.75,950.25M237,673.5L521.75,958.25M237,681.5L521.75,966.25M237,689.5L521.75,974.25M237,697.5L521.75,982.25M237,705.5L521.75,990.25M237,713.5L521.75,998.25M237,721.5L521.75,1006.25M237,729.5L521.75,1014.25M237,737.5L521.75,1022.25M237,745.5L521.75,1030.25M237,753.5L521.75,1038.25M237,761.5L521.75,1046.25M237,769.5L521.75,1054.25M237,777.5L521.75,1062.25M237,785.5L521.75,1070.25M237,793.5L521.75,1078.25M237,801.5L521.75,1086.25M237,809.5L521.75,1094.25M237,817.5L521.75,1102.25M237,825.5L521.75,1110.25M237,833.5L521.75,1118.25M237,841.5L521.75,1126.25M237,849.5L521.75,1134.25M237,857.5L521.75,1142.25M237,865.5L521.75,1150.25M237,873.5L521.75,1158.25" stroke="#666666" stroke-width="1.35" fill="none"/>
<rect x="238.5" y="611.0" width="15.25" height="264.5" fill="none" stroke="#1e1e1e" stroke-width="1"/>
<rect x="221.50" y="621.5" width="16.5" height="254.5" fill="#1a1a1a"/>
<clipPath id="c17"><rect x="286" y="671.0" width="16.25" height="205.0"/></clipPath>
<rect x="286" y="671.0" width="16.25" height="205.0" fill="#fff"/>
<path clip-path="url(#c17)" d="M285,646.0L509.25,870.25M285,654.0L509.25,878.25M285,662.0L509.25,886.25M285,670.0L509.25,894.25M285,678.0L509.25,902.25M285,686.0L509.25,910.25M285,694.0L509.25,918.25M285,702.0L509.25,926.25M285,710.0L509.25,934.25M285,718.0L509.25,942.25M285,726.0L509.25,950.25M285,734.0L509.25,958.25M285,742.0L509.25,966.25M285,750.0L509.25,974.25M285,758.0L509.25,982.25M285,766.0L509.25,990.25M285,774.0L509.25,998.25M285,782.0L509.25,1006.25M285,790.0L509.25,1014.25M285,798.0L509.25,1022.25M285,806.0L509.25,1030.25M285,814.0L509.25,1038.25M285,822.0L509.25,1046.25M285,830.0L509.25,1054.25M285,838.0L509.25,1062.25M285,846.0L509.25,1070.25M285,854.0L509.25,1078.25M285,862.0L509.25,1086.25M285,870.0L509.25,1094.25" stroke="#666666" stroke-width="1.35" fill="none"/>
<rect x="286.5" y="671.5" width="15.25" height="204.0" fill="none" stroke="#1e1e1e" stroke-width="1"/>
<rect x="269.50" y="654.5" width="16.5" height="221.5" fill="#1a1a1a"/>
<clipPath id="c18"><rect x="334" y="632.5" width="16.25" height="243.5"/></clipPath>
<rect x="334" y="632.5" width="16.25" height="243.5" fill="#fff"/>
<path clip-path="url(#c18)" d="M333,607.5L595.75,870.25M333,615.5L595.75,878.25M333,623.5L595.75,886.25M333,631.5L595.75,894.25M333,639.5L595.75,902.25M333,647.5L595.75,910.25M333,655.5L595.75,918.25M333,663.5L595.75,926.25M333,671.5L595.75,934.25M333,679.5L595.75,942.25M333,687.5L595.75,950.25M333,695.5L595.75,958.25M333,703.5L595.75,966.25M333,711.5L595.75,974.25M333,719.5L595.75,982.25M333,727.5L595.75,990.25M333,735.5L595.75,998.25M333,743.5L595.75,1006.25M333,751.5L595.75,1014.25M333,759.5L595.75,1022.25M333,767.5L595.75,1030.25M333,775.5L595.75,1038.25M333,783.5L595.75,1046.25M333,791.5L595.75,1054.25M333,799.5L595.75,1062.25M333,807.5L595.75,1070.25M333,815.5L595.75,1078.25M333,823.5L595.75,1086.25M333,831.5L595.75,1094.25M333,839.5L595.75,1102.25M333,847.5L595.75,1110.25M333,855.5L595.75,1118.25M333,863.5L595.75,1126.25M333,871.5L595.75,1134.25" stroke="#666666" stroke-width="1.35" fill="none"/>
<rect x="334.5" y="633.0" width="15.25" height="242.5" fill="none" stroke="#1e1e1e" stroke-width="1"/>
<rect x="317.50" y="632.5" width="16.5" height="243.5" fill="#1a1a1a"/>
<clipPath id="c19"><rect x="382" y="621.5" width="16.25" height="254.5"/></clipPath>
<rect x="382" y="621.5" width="16.25" height="254.5" fill="#fff"/>
<path clip-path="url(#c19)" d="M381,596.5L654.75,870.25M381,604.5L654.75,878.25M381,612.5L654.75,886.25M381,620.5L654.75,894.25M381,628.5L654.75,902.25M381,636.5L654.75,910.25M381,644.5L654.75,918.25M381,652.5L654.75,926.25M381,660.5L654.75,934.25M381,668.5L654.75,942.25M381,676.5L654.75,950.25M381,684.5L654.75,958.25M381,692.5L654.75,966.25M381,700.5L654.75,974.25M381,708.5L654.75,982.25M381,716.5L654.75,990.25M381,724.5L654.75,998.25M381,732.5L654.75,1006.25M381,740.5L654.75,1014.25M381,748.5L654.75,1022.25M381,756.5L654.75,1030.25M381,764.5L654.75,1038.25M381,772.5L654.75,1046.25M381,780.5L654.75,1054.25M381,788.5L654.75,1062.25M381,796.5L654.75,1070.25M381,804.5L654.75,1078.25M381,812.5L654.75,1086.25M381,820.5L654.75,1094.25M381,828.5L654.75,1102.25M381,836.5L654.75,1110.25M381,844.5L654.75,1118.25M381,852.5L654.75,1126.25M381,860.5L654.75,1134.25M381,868.5L654.75,1142.25" stroke="#666666" stroke-width="1.35" fill="none"/>
<rect x="382.5" y="622.0" width="15.25" height="253.5" fill="none" stroke="#1e1e1e" stroke-width="1"/>
<rect x="365.50" y="654.5" width="16.5" height="221.5" fill="#1a1a1a"/>
<clipPath id="c20"><rect x="430" y="572.0" width="16.25" height="304.0"/></clipPath>
<rect x="430" y="572.0" width="16.25" height="304.0" fill="#fff"/>
<path clip-path="url(#c20)" d="M429,547.0L752.25,870.25M429,555.0L752.25,878.25M429,563.0L752.25,886.25M429,571.0L752.25,894.25M429,579.0L752.25,902.25M429,587.0L752.25,910.25M429,595.0L752.25,918.25M429,603.0L752.25,926.25M429,611.0L752.25,934.25M429,619.0L752.25,942.25M429,627.0L752.25,950.25M429,635.0L752.25,958.25M429,643.0L752.25,966.25M429,651.0L752.25,974.25M429,659.0L752.25,982.25M429,667.0L752.25,990.25M429,675.0L752.25,998.25M429,683.0L752.25,1006.25M429,691.0L752.25,1014.25M429,699.0L752.25,1022.25M429,707.0L752.25,1030.25M429,715.0L752.25,1038.25M429,723.0L752.25,1046.25M429,731.0L752.25,1054.25M429,739.0L752.25,1062.25M429,747.0L752.25,1070.25M429,755.0L752.25,1078.25M429,763.0L752.25,1086.25M429,771.0L752.25,1094.25M429,779.0L752.25,1102.25M429,787.0L752.25,1110.25M429,795.0L752.25,1118.25M429,803.0L752.25,1126.25M429,811.0L752.25,1134.25M429,819.0L752.25,1142.25M429,827.0L752.25,1150.25M429,835.0L752.25,1158.25M429,843.0L752.25,1166.25M429,851.0L752.25,1174.25M429,859.0L752.25,1182.25M429,867.0L752.25,1190.25M429,875.0L752.25,1198.25" stroke="#666666" stroke-width="1.35" fill="none"/>
<rect x="430.5" y="572.5" width="15.25" height="303.0" fill="none" stroke="#1e1e1e" stroke-width="1"/>
<rect x="413.50" y="594.0" width="16.5" height="282.0" fill="#1a1a1a"/>
<clipPath id="c21"><rect x="478" y="676.5" width="16.25" height="199.5"/></clipPath>
<rect x="478" y="676.5" width="16.25" height="199.5" fill="#fff"/>
<path clip-path="url(#c21)" d="M477,651.5L695.75,870.25M477,659.5L695.75,878.25M477,667.5L695.75,886.25M477,675.5L695.75,894.25M477,683.5L695.75,902.25M477,691.5L695.75,910.25M477,699.5L695.75,918.25M477,707.5L695.75,926.25M477,715.5L695.75,934.25M477,723.5L695.75,942.25M477,731.5L695.75,950.25M477,739.5L695.75,958.25M477,747.5L695.75,966.25M477,755.5L695.75,974.25M477,763.5L695.75,982.25M477,771.5L695.75,990.25M477,779.5L695.75,998.25M477,787.5L695.75,1006.25M477,795.5L695.75,1014.25M477,803.5L695.75,1022.25M477,811.5L695.75,1030.25M477,819.5L695.75,1038.25M477,827.5L695.75,1046.25M477,835.5L695.75,1054.25M477,843.5L695.75,1062.25M477,851.5L695.75,1070.25M477,859.5L695.75,1078.25M477,867.5L695.75,1086.25M477,875.5L695.75,1094.25" stroke="#666666" stroke-width="1.35" fill="none"/>
<rect x="478.5" y="677.0" width="15.25" height="198.5" fill="none" stroke="#1e1e1e" stroke-width="1"/>
<rect x="461.50" y="638.0" width="16.5" height="238.0" fill="#1a1a1a"/>
<clipPath id="c22"><rect x="526" y="654.5" width="16.25" height="221.5"/></clipPath>
<rect x="526" y="654.5" width="16.25" height="221.5" fill="#fff"/>
<path clip-path="url(#c22)" d="M525,629.5L765.75,870.25M525,637.5L765.75,878.25M525,645.5L765.75,886.25M525,653.5L765.75,894.25M525,661.5L765.75,902.25M525,669.5L765.75,910.25M525,677.5L765.75,918.25M525,685.5L765.75,926.25M525,693.5L765.75,934.25M525,701.5L765.75,942.25M525,709.5L765.75,950.25M525,717.5L765.75,958.25M525,725.5L765.75,966.25M525,733.5L765.75,974.25M525,741.5L765.75,982.25M525,749.5L765.75,990.25M525,757.5L765.75,998.25M525,765.5L765.75,1006.25M525,773.5L765.75,1014.25M525,781.5L765.75,1022.25M525,789.5L765.75,1030.25M525,797.5L765.75,1038.25M525,805.5L765.75,1046.25M525,813.5L765.75,1054.25M525,821.5L765.75,1062.25M525,829.5L765.75,1070.25M525,837.5L765.75,1078.25M525,845.5L765.75,1086.25M525,853.5L765.75,1094.25M525,861.5L765.75,1102.25M525,869.5L765.75,1110.25" stroke="#666666" stroke-width="1.35" fill="none"/>
<rect x="526.5" y="655.0" width="15.25" height="220.5" fill="none" stroke="#1e1e1e" stroke-width="1"/>
<rect x="509.50" y="649.0" width="16.5" height="227.0" fill="#1a1a1a"/>
<clipPath id="c23"><rect x="574" y="599.5" width="16.25" height="276.5"/></clipPath>
<rect x="574" y="599.5" width="16.25" height="276.5" fill="#fff"/>
<path clip-path="url(#c23)" d="M573,574.5L868.75,870.25M573,582.5L868.75,878.25M573,590.5L868.75,886.25M573,598.5L868.75,894.25M573,606.5L868.75,902.25M573,614.5L868.75,910.25M573,622.5L868.75,918.25M573,630.5L868.75,926.25M573,638.5L868.75,934.25M573,646.5L868.75,942.25M573,654.5L868.75,950.25M573,662.5L868.75,958.25M573,670.5L868.75,966.25M573,678.5L868.75,974.25M573,686.5L868.75,982.25M573,694.5L868.75,990.25M573,702.5L868.75,998.25M573,710.5L868.75,1006.25M573,718.5L868.75,1014.25M573,726.5L868.75,1022.25M573,734.5L868.75,1030.25M573,742.5L868.75,1038.25M573,750.5L868.75,1046.25M573,758.5L868.75,1054.25M573,766.5L868.75,1062.25M573,774.5L868.75,1070.25M573,782.5L868.75,1078.25M573,790.5L868.75,1086.25M573,798.5L868.75,1094.25M573,806.5L868.75,1102.25M573,814.5L868.75,1110.25M573,822.5L868.75,1118.25M573,830.5L868.75,1126.25M573,838.5L868.75,1134.25M573,846.5L868.75,1142.25M573,854.5L868.75,1150.25M573,862.5L868.75,1158.25M573,870.5L868.75,1166.25" stroke="#666666" stroke-width="1.35" fill="none"/>
<rect x="574.5" y="600.0" width="15.25" height="275.5" fill="none" stroke="#1e1e1e" stroke-width="1"/>
<rect x="557.50" y="605.0" width="16.5" height="271.0" fill="#1a1a1a"/>
<rect x="70.0" y="544.0" width="528.0" height="2" fill="#767676"/>
<line x1="597.5" y1="545.5" x2="597.5" y2="875.5" stroke="#1e1e1e" stroke-width="1"/>
<line x1="70.5" y1="545.0" x2="70.5" y2="885.0" stroke="#606060" stroke-width="1.2"/>
<line x1="63.5" y1="875.5" x2="598.0" y2="875.5" stroke="#1e1e1e" stroke-width="1"/>
<line x1="64.0" y1="875.5" x2="70.5" y2="875.5" stroke="#707070" stroke-width="1"/>
<line x1="67.0" y1="864.5" x2="70.5" y2="864.5" stroke="#9a9a9a" stroke-width="1"/>
<line x1="67.0" y1="853.5" x2="70.5" y2="853.5" stroke="#9a9a9a" stroke-width="1"/>
<line x1="67.0" y1="842.5" x2="70.5" y2="842.5" stroke="#9a9a9a" stroke-width="1"/>
<line x1="67.0" y1="831.5" x2="70.5" y2="831.5" stroke="#9a9a9a" stroke-width="1"/>
<line x1="64.0" y1="820.5" x2="70.5" y2="820.5" stroke="#707070" stroke-width="1"/>
<line x1="67.0" y1="809.5" x2="70.5" y2="809.5" stroke="#9a9a9a" stroke-width="1"/>
<line x1="67.0" y1="798.5" x2="70.5" y2="798.5" stroke="#9a9a9a" stroke-width="1"/>
<line x1="67.0" y1="787.5" x2="70.5" y2="787.5" stroke="#9a9a9a" stroke-width="1"/>
<line x1="67.0" y1="776.5" x2="70.5" y2="776.5" stroke="#9a9a9a" stroke-width="1"/>
<line x1="64.0" y1="765.5" x2="70.5" y2="765.5" stroke="#707070" stroke-width="1"/>
<line x1="67.0" y1="754.5" x2="70.5" y2="754.5" stroke="#9a9a9a" stroke-width="1"/>
<line x1="67.0" y1="743.5" x2="70.5" y2="743.5" stroke="#9a9a9a" stroke-width="1"/>
<line x1="67.0" y1="732.5" x2="70.5" y2="732.5" stroke="#9a9a9a" stroke-width="1"/>
<line x1="67.0" y1="721.5" x2="70.5" y2="721.5" stroke="#9a9a9a" stroke-width="1"/>
<line x1="64.0" y1="710.5" x2="70.5" y2="710.5" stroke="#707070" stroke-width="1"/>
<line x1="67.0" y1="699.5" x2="70.5" y2="699.5" stroke="#9a9a9a" stroke-width="1"/>
<line x1="67.0" y1="688.5" x2="70.5" y2="688.5" stroke="#9a9a9a" stroke-width="1"/>
<line x1="67.0" y1="677.5" x2="70.5" y2="677.5" stroke="#9a9a9a" stroke-width="1"/>
<line x1="67.0" y1="666.5" x2="70.5" y2="666.5" stroke="#9a9a9a" stroke-width="1"/>
<line x1="64.0" y1="655.5" x2="70.5" y2="655.5" stroke="#707070" stroke-width="1"/>
<line x1="67.0" y1="644.5" x2="70.5" y2="644.5" stroke="#9a9a9a" stroke-width="1"/>
<line x1="67.0" y1="633.5" x2="70.5" y2="633.5" stroke="#9a9a9a" stroke-width="1"/>
<line x1="67.0" y1="622.5" x2="70.5" y2="622.5" stroke="#9a9a9a" stroke-width="1"/>
<line x1="67.0" y1="611.5" x2="70.5" y2="611.5" stroke="#9a9a9a" stroke-width="1"/>
<line x1="64.0" y1="600.5" x2="70.5" y2="600.5" stroke="#707070" stroke-width="1"/>
<line x1="67.0" y1="589.5" x2="70.5" y2="589.5" stroke="#9a9a9a" stroke-width="1"/>
<line x1="67.0" y1="578.5" x2="70.5" y2="578.5" stroke="#9a9a9a" stroke-width="1"/>
<line x1="67.0" y1="567.5" x2="70.5" y2="567.5" stroke="#9a9a9a" stroke-width="1"/>
<line x1="67.0" y1="556.5" x2="70.5" y2="556.5" stroke="#9a9a9a" stroke-width="1"/>
<line x1="64.0" y1="545.5" x2="70.5" y2="545.5" stroke="#707070" stroke-width="1"/>
<rect x="70.0" y="876.0" width="528.0" height="3" fill="#8e8e8e"/>
<line x1="70.5" y1="879.0" x2="70.5" y2="885.0" stroke="#606060" stroke-width="1"/>
<line x1="118.5" y1="879.0" x2="118.5" y2="885.0" stroke="#606060" stroke-width="1"/>
<line x1="166.5" y1="879.0" x2="166.5" y2="885.0" stroke="#606060" stroke-width="1"/>
<line x1="214.5" y1="879.0" x2="214.5" y2="885.0" stroke="#606060" stroke-width="1"/>
<line x1="262.5" y1="879.0" x2="262.5" y2="885.0" stroke="#606060" stroke-width="1"/>
<line x1="310.5" y1="879.0" x2="310.5" y2="885.0" stroke="#606060" stroke-width="1"/>
<line x1="357.5" y1="879.0" x2="357.5" y2="885.0" stroke="#606060" stroke-width="1"/>
<line x1="405.5" y1="879.0" x2="405.5" y2="885.0" stroke="#606060" stroke-width="1"/>
<line x1="453.5" y1="879.0" x2="453.5" y2="885.0" stroke="#606060" stroke-width="1"/>
<line x1="501.5" y1="879.0" x2="501.5" y2="885.0" stroke="#606060" stroke-width="1"/>
<line x1="549.5" y1="879.0" x2="549.5" y2="885.0" stroke="#606060" stroke-width="1"/>
<line x1="597.5" y1="879.0" x2="597.5" y2="885.0" stroke="#606060" stroke-width="1"/>
<text class="s" x="51.14" y="880.60" font-family='"Liberation Sans", sans-serif' font-size="19">0</text>
<path class="s" d="M0.3726,0L0.2847,0L0.2847,-0.560Q0.2529,-0.5298 0.2026,-0.50025Q0.1523,-0.4707 0.1089,-0.4546L0.1089,-0.5396Q0.1826,-0.5742 0.2378,-0.62355Q0.2930,-0.6729 0.3154,-0.7158L0.3726,-0.7158Z" transform="translate(40.57,825.60) scale(19)" style="fill:#000;stroke-width:0.0105px"/>
<text class="s" x="51.14" y="825.60" font-family='"Liberation Sans", sans-serif' font-size="19">0</text>
<text class="s" x="40.57" y="770.60" font-family='"Liberation Sans", sans-serif' font-size="19">2</text>
<text class="s" x="51.14" y="770.60" font-family='"Liberation Sans", sans-serif' font-size="19">0</text>
<text class="s" x="40.57" y="715.60" font-family='"Liberation Sans", sans-serif' font-size="19">3</text>
<text class="s" x="51.14" y="715.60" font-family='"Liberation Sans", sans-serif' font-size="19">0</text>
<text class="s" x="40.57" y="660.60" font-family='"Liberation Sans", sans-serif' font-size="19">4</text>
<text class="s" x="51.14" y="660.60" font-family='"Liberation Sans", sans-serif' font-size="19">0</text>
<text class="s" x="40.57" y="605.60" font-family='"Liberation Sans", sans-serif' font-size="19">5</text>
<text class="s" x="51.14" y="605.60" font-family='"Liberation Sans", sans-serif' font-size="19">0</text>
<text class="s" x="40.57" y="550.60" font-family='"Liberation Sans", sans-serif' font-size="19">6</text>
<text class="s" x="51.14" y="550.60" font-family='"Liberation Sans", sans-serif' font-size="19">0</text>
<path class="s" d="M0.3726,0L0.2847,0L0.2847,-0.560Q0.2529,-0.5298 0.2026,-0.50025Q0.1523,-0.4707 0.1089,-0.4546L0.1089,-0.5396Q0.1826,-0.5742 0.2378,-0.62355Q0.2930,-0.6729 0.3154,-0.7158L0.3726,-0.7158Z" transform="translate(89.17,900.80) scale(19)" style="fill:#000;stroke-width:0.0105px"/>
<text class="s" x="137.08" y="900.80" font-family='"Liberation Sans", sans-serif' font-size="19">2</text>
<text class="s" x="184.99" y="900.80" font-family='"Liberation Sans", sans-serif' font-size="19">3</text>
<text class="s" x="232.90" y="900.80" font-family='"Liberation Sans", sans-serif' font-size="19">4</text>
<text class="s" x="280.81" y="900.80" font-family='"Liberation Sans", sans-serif' font-size="19">5</text>
<text class="s" x="328.72" y="900.80" font-family='"Liberation Sans", sans-serif' font-size="19">6</text>
<text class="s" x="376.63" y="900.80" font-family='"Liberation Sans", sans-serif' font-size="19">7</text>
<text class="s" x="424.54" y="900.80" font-family='"Liberation Sans", sans-serif' font-size="19">8</text>
<text class="s" x="472.45" y="900.80" font-family='"Liberation Sans", sans-serif' font-size="19">9</text>
<path class="s" d="M0.3726,0L0.2847,0L0.2847,-0.560Q0.2529,-0.5298 0.2026,-0.50025Q0.1523,-0.4707 0.1089,-0.4546L0.1089,-0.5396Q0.1826,-0.5742 0.2378,-0.62355Q0.2930,-0.6729 0.3154,-0.7158L0.3726,-0.7158Z" transform="translate(515.08,900.80) scale(19)" style="fill:#000;stroke-width:0.0105px"/>
<text class="s" x="525.64" y="900.80" font-family='"Liberation Sans", sans-serif' font-size="19">0</text>
<path class="s" d="M0.3726,0L0.2847,0L0.2847,-0.560Q0.2529,-0.5298 0.2026,-0.50025Q0.1523,-0.4707 0.1089,-0.4546L0.1089,-0.5396Q0.1826,-0.5742 0.2378,-0.62355Q0.2930,-0.6729 0.3154,-0.7158L0.3726,-0.7158Z" transform="translate(562.99,900.80) scale(19)" style="fill:#000;stroke-width:0.0105px"/>
<path class="s" d="M0.3726,0L0.2847,0L0.2847,-0.560Q0.2529,-0.5298 0.2026,-0.50025Q0.1523,-0.4707 0.1089,-0.4546L0.1089,-0.5396Q0.1826,-0.5742 0.2378,-0.62355Q0.2930,-0.6729 0.3154,-0.7158L0.3726,-0.7158Z" transform="translate(573.55,900.80) scale(19)" style="fill:#000;stroke-width:0.0105px"/>
<text class="s" x="334.70" y="921.20" text-anchor="middle" font-family='"Liberation Sans", sans-serif' font-size="19" >Muscle Number</text>
<text class="s" transform="translate(29.8,710.2) rotate(-90)" text-anchor="middle" font-family='"Liberation Sans", sans-serif' font-size="19" textLength="284.5" lengthAdjust="spacingAndGlyphs">Number of relevant neurons found</text>
<text transform="translate(5.30,489.8) scale(1.1020,1)" x="0" y="0" font-family='"Liberation Serif", serif' font-size="17" style="fill:#1c1c1c">(a)</text>
<text transform="translate(35.10,489.8) scale(1.0411,1)" x="0" y="0" font-family='"Liberation Serif", serif' font-size="17" style="fill:#1c1c1c">Coefficient</text>
<text transform="translate(121.70,489.8) scale(1.0232,1)" x="0" y="0" font-family='"Liberation Serif", serif' font-size="17" style="fill:#1c1c1c">of</text>
<text transform="translate(141.30,489.8) scale(1.1178,1)" x="0" y="0" font-family='"Liberation Serif", serif' font-size="17" style="fill:#1c1c1c">determination,</text>
<text transform="translate(287.90,489.8) scale(1.0238,1)" x="0" y="0" font-family='"Liberation Serif", serif' font-size="17" style="fill:#1c1c1c">for</text>
<text transform="translate(315.40,489.8) scale(1.0834,1)" x="0" y="0" font-family='"Liberation Serif", serif' font-size="17" style="fill:#1c1c1c">batch</text>
<text transform="translate(361.90,489.8) scale(1.0582,1)" x="0" y="0" font-family='"Liberation Serif", serif' font-size="17" style="fill:#1c1c1c">VBLS</text>
<text transform="translate(415.50,489.8) scale(1.1285,1)" x="0" y="0" font-family='"Liberation Serif", serif' font-size="17" style="fill:#1c1c1c">and</text>
<text transform="translate(449.80,489.8) scale(1.1099,1)" x="0" y="0" font-family='"Liberation Serif", serif' font-size="17" style="fill:#1c1c1c">real-time</text>
<text transform="translate(523.40,489.8) scale(1.0750,1)" x="0" y="0" font-family='"Liberation Serif", serif' font-size="17" style="fill:#1c1c1c">VBLS,</text>
<text transform="translate(580.80,489.8) scale(1.1688,1)" x="0" y="0" font-family='"Liberation Serif", serif' font-size="17" style="fill:#1c1c1c">run</text>
<text transform="translate(259.90,489.8) scale(1.0717,1)" x="0" y="0" font-family='"Liberation Serif", serif' font-size="17" font-style="italic" style="fill:#1c1c1c">r</text>
<text transform="translate(268.80,484.0) scale(1.1130,1)" x="0" y="0" font-family='"Liberation Serif", serif' font-size="11.5" style="fill:#1c1c1c">2</text>
<text transform="translate(277.70,489.8) scale(0.9176,1)" x="0" y="0" font-family='"Liberation Serif", serif' font-size="17" style="fill:#1c1c1c">,</text>
<text transform="translate(4.90,509.7) scale(1.0882,1)" x="0" y="0" font-family='"Liberation Serif", serif' font-size="17" style="fill:#1c1c1c">on</text>
<text transform="translate(29.40,509.7) scale(1.1741,1)" x="0" y="0" font-family='"Liberation Serif", serif' font-size="17" style="fill:#1c1c1c">the</text>
<text transform="translate(59.90,509.7) scale(1.1136,1)" x="0" y="0" font-family='"Liberation Serif", serif' font-size="17" style="fill:#1c1c1c">entire</text>
<text transform="translate(109.70,509.7) scale(1.0345,1)" x="0" y="0" font-family='"Liberation Serif", serif' font-size="17" style="fill:#1c1c1c">Sergio</text>
<text transform="translate(161.90,509.7) scale(1.0125,1)" x="0" y="0" font-family='"Liberation Serif", serif' font-size="17" style="fill:#1c1c1c">&amp;</text>
<text transform="translate(182.00,509.7) scale(1.0718,1)" x="0" y="0" font-family='"Liberation Serif", serif' font-size="17" style="fill:#1c1c1c">Kalaska</text>
<text transform="translate(248.00,509.7) scale(1.1755,1)" x="0" y="0" font-family='"Liberation Serif", serif' font-size="17" style="fill:#1c1c1c">data</text>
<text transform="translate(288.50,509.7) scale(1.0717,1)" x="0" y="0" font-family='"Liberation Serif", serif' font-size="17" style="fill:#1c1c1c">set.</text>
<text transform="translate(8.40,950.0) scale(1.0793,1)" x="0" y="0" font-family='"Liberation Serif", serif' font-size="17" style="fill:#1c1c1c">(b)</text>
<text transform="translate(37.80,950.0) scale(1.0822,1)" x="0" y="0" font-family='"Liberation Serif", serif' font-size="17" style="fill:#1c1c1c">Number</text>
<text transform="translate(104.70,950.0) scale(0.9244,1)" x="0" y="0" font-family='"Liberation Serif", serif' font-size="17" style="fill:#1c1c1c">of</text>
<text transform="translate(123.60,950.0) scale(1.0904,1)" x="0" y="0" font-family='"Liberation Serif", serif' font-size="17" style="fill:#1c1c1c">relevant</text>
<text transform="translate(188.90,950.0) scale(0.9905,1)" x="0" y="0" font-family='"Liberation Serif", serif' font-size="17" style="fill:#1c1c1c">M1</text>
<text transform="translate(217.80,950.0) scale(1.1091,1)" x="0" y="0" font-family='"Liberation Serif", serif' font-size="17" style="fill:#1c1c1c">neurons</text>
<text transform="translate(283.20,950.0) scale(1.0511,1)" x="0" y="0" font-family='"Liberation Serif", serif' font-size="17" style="fill:#1c1c1c">found</text>
<text transform="translate(331.00,950.0) scale(1.0529,1)" x="0" y="0" font-family='"Liberation Serif", serif' font-size="17" style="fill:#1c1c1c">by</text>
<text transform="translate(354.00,950.0) scale(1.0997,1)" x="0" y="0" font-family='"Liberation Serif", serif' font-size="17" style="fill:#1c1c1c">batch</text>
<text transform="translate(402.60,950.0) scale(1.0099,1)" x="0" y="0" font-family='"Liberation Serif", serif' font-size="17" style="fill:#1c1c1c">VBLS</text>
<text transform="translate(452.10,950.0) scale(1.1081,1)" x="0" y="0" font-family='"Liberation Serif", serif' font-size="17" style="fill:#1c1c1c">and</text>
<text transform="translate(484.40,950.0) scale(1.1310,1)" x="0" y="0" font-family='"Liberation Serif", serif' font-size="17" style="fill:#1c1c1c">real-time</text>
<text transform="translate(558.60,950.0) scale(1.0605,1)" x="0" y="0" font-family='"Liberation Serif", serif' font-size="17" style="fill:#1c1c1c">VBLS</text>
<text transform="translate(8.50,969.2) scale(1.0694,1)" x="0" y="0" font-family='"Liberation Serif", serif' font-size="17" style="fill:#1c1c1c">using</text>
<text transform="translate(54.50,969.2) scale(1.0779,1)" x="0" y="0" font-family='"Liberation Serif", serif' font-size="17" style="fill:#1c1c1c">the</text>
<text transform="translate(84.50,969.2) scale(1.1136,1)" x="0" y="0" font-family='"Liberation Serif", serif' font-size="17" style="fill:#1c1c1c">entire</text>
<text transform="translate(133.70,969.2) scale(1.0595,1)" x="0" y="0" font-family='"Liberation Serif", serif' font-size="17" style="fill:#1c1c1c">Sergio</text>
<text transform="translate(187.10,969.2) scale(0.9672,1)" x="0" y="0" font-family='"Liberation Serif", serif' font-size="17" style="fill:#1c1c1c">&amp;</text>
<text transform="translate(207.10,969.2) scale(1.0828,1)" x="0" y="0" font-family='"Liberation Serif", serif' font-size="17" style="fill:#1c1c1c">Kalaska</text>
<text transform="translate(272.50,969.2) scale(1.1861,1)" x="0" y="0" font-family='"Liberation Serif", serif' font-size="17" style="fill:#1c1c1c">data</text>
<text transform="translate(312.80,969.2) scale(1.0717,1)" x="0" y="0" font-family='"Liberation Serif", serif' font-size="17" style="fill:#1c1c1c">set.</text>
</svg></body></html>
